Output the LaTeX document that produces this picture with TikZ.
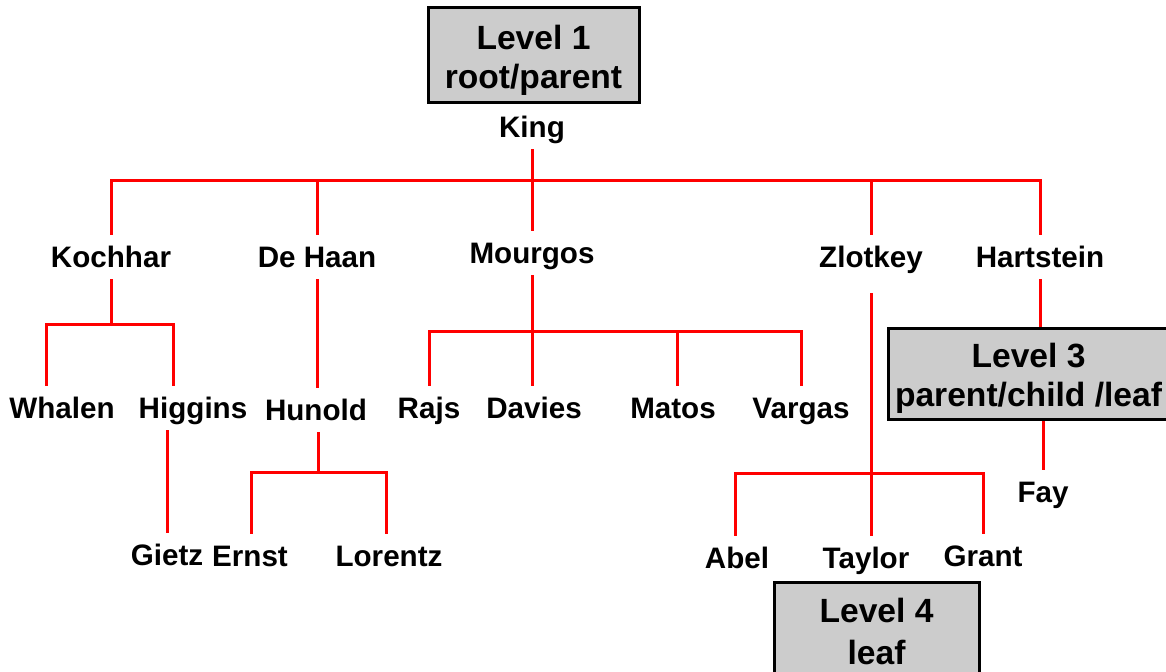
\documentclass[tikz,border=0pt]{standalone}
\usepackage{fontspec}
\setmainfont{Liberation Sans}
\tikzset{
  person/.style={font=\fontsize{14.8}{17}\selectfont\bfseries, text height=12.5pt, text depth=1.5pt, inner xsep=1pt, inner ysep=4pt},
  levelbox/.style={draw=black, line width=1.5pt, fill=black!20, align=center, inner sep=0pt,
    font=\fontsize{16.8}{19.5}\selectfont\bfseries},
  branch/.style={red, line width=1.5pt}
}
\begin{document}
\begin{tikzpicture}[x=0.5pt,y=-0.5pt]
		\useasboundingbox (0,0) rectangle (1166,672);
		\clip (0,0) rectangle (1166,672);
		% Ebenen
		\node [levelbox, minimum width=105.5pt, minimum height=47.5pt] (lvlone) at (533.5,55.5) {\rule{0pt}{17.2pt}Level 1\\root/parent};
		\node [levelbox, minimum width=140.5pt, minimum height=45.5pt] (lvlthree) at (1028.5,374.5) {\rule{0pt}{16.2pt}Level 3\\parent/child /leaf};
		\node [levelbox, minimum width=102.5pt, minimum height=48pt, font=\fontsize{16.8}{21}\selectfont\bfseries] (lvlfour) at (876.5,631) {Level 4\\leaf};
		% Mitarbeiter
		\node [person] (king) at (532,127) {King};
		\node [person] (kochhar) at (111,257) {Kochhar};
		\node [person] (dehaan) at (317,257) {De Haan};
		\node [person] (mourgos) at (532,253) {Mourgos};
		\node [person] (zlotkey) at (871,257) {Zlotkey};
		\node [person] (hartstein) at (1040,257) {Hartstein};
		\node [person] (whalen) at (62,408) {Whalen};
		\node [person] (higgins) at (193,408) {Higgins};
		\node [person] (hunold) at (316,410) {Hunold};
		\node [person] (rajs) at (429,408) {Rajs};
		\node [person] (davies) at (534,408) {Davies};
		\node [person] (matos) at (673,408) {Matos};
		\node [person] (vargas) at (801,408) {Vargas};
		\node [person] (gietz) at (167,555) {Gietz};
		\node [person] (ernst) at (250,556) {Ernst};
		\node [person] (lorentz) at (389,556) {Lorentz};
		\node [person] (abel) at (737,558) {Abel};
		\node [person] (taylor) at (866,558) {Taylor};
		\node [person] (grant) at (983,556) {Grant};
		\node [person] (fay) at (1043,492) {Fay};
		% Verzweigungen
		\coordinate (kingbus) at (532,181);
		\coordinate (kochharbus) at (111,325);
		\coordinate (hunoldbus) at (318,473);
		\coordinate (mourgosbus) at (532,332);
		\coordinate (zlotkeybus) at (871,474);
		\draw [branch] (king.south) -- (kingbus);
		\draw [branch] (kochhar.north) |- (kingbus) -| (hartstein.north);
		\foreach \n in {dehaan,mourgos,zlotkey}
			\draw [branch] (\n.north) -- (\n.north |- kingbus);
		\draw [branch] (kochhar.south) -- (kochharbus);
		\draw [branch] ([xshift=-8pt]whalen.north) |- (kochharbus) -| ([xshift=-10pt]higgins.north);
		\draw [branch] (gietz.north) -- (gietz.north |- higgins.south);
		\draw [branch] (dehaan.south) -- (dehaan.south |- hunold.north);
		\draw [branch] (hunold.south -| hunoldbus) -- (hunoldbus);
		\draw [branch] ([xshift=0.5pt]ernst.north) |- (hunoldbus) -| ([xshift=-1.5pt]lorentz.north);
		\draw [branch] (mourgos.south) -- (mourgosbus);
		\draw [branch] (rajs.north) |- (mourgosbus) -| ([xshift=2pt]matos.north);
		\draw [branch] (mourgosbus) -| (vargas.north);
		\draw [branch] (mourgosbus) -- (davies.north -| mourgosbus);
		\draw [branch] ([yshift=-7pt]zlotkey.south) -- (zlotkeybus);
		\draw [branch] ([xshift=-1pt]abel.north) |- (zlotkeybus) -| (grant.north);
		\draw [branch] (zlotkeybus) -- (taylor.north -| zlotkeybus);
		\draw [branch] (hartstein.south) -- (hartstein.south |- lvlthree.north);
		\draw [branch] (fay.north) -- (fay.north |- lvlthree.south);
		\end{tikzpicture}
\end{document}
